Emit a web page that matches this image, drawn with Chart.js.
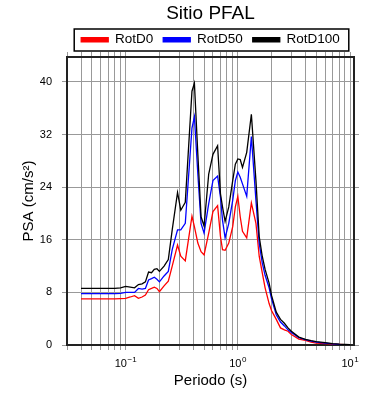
<!DOCTYPE html>
<html><head><meta charset="utf-8">
<script src="https://cdn.jsdelivr.net/npm/chart.js@4"></script>
<style>html,body{margin:0;padding:0;background:#fff}</style>
</head><body>
<canvas id="c" width="390" height="400"></canvas>
<script>
const periods = [0.04,0.05,0.06,0.07,0.08,0.09,0.1,0.11,0.12,0.13,0.14,0.15,0.16,0.17,0.18,0.19,0.2,0.22,0.24,0.26,0.29,0.31,0.34,0.39,0.41,0.44,0.47,0.5,0.55,0.6,0.66,0.7,0.73,0.77,0.83,0.9,0.95,1.0,1.05,1.1,1.2,1.32,1.45,1.55,1.65,1.75,1.9,2.0,2.2,2.4,2.6,2.8,3.0,3.5,4,4.5,5,6,7,8,9,10];
const rotD0 = [7.0,7.0,7.0,7.0,7.0,7.05,7.1,7.3,7.5,7.1,7.3,7.6,8.4,8.6,8.8,8.6,8.1,9.0,9.7,12.0,15.2,13.5,12.8,19.6,18.0,15.5,14.2,13.7,17.0,20.3,21.2,16.5,14.5,14.4,15.5,18,21,22.6,19.5,17.3,16.3,21.6,18.5,13.5,11.0,8.7,6.3,5.2,3.9,2.6,2.3,2.1,1.6,0.9,0.7,0.45,0.3,0.2,0.12,0.08,0.06,0.05];
const rotD50 = [7.8,7.8,7.8,7.8,7.8,7.85,8.0,8.0,8.0,8.6,8.5,8.6,9.9,10.1,10.3,10.0,9.6,10.5,11.2,14.5,17.5,17.5,18.5,33.0,34.7,26,18.5,17.0,21.5,25.0,25.7,22.5,19,16.3,18.5,22,25,26.3,25.5,24.5,22.6,31.7,22,15.5,12.5,10.6,8.7,7.0,4.6,3.5,2.9,2.3,1.9,1.1,0.8,0.6,0.45,0.3,0.18,0.1,0.07,0.05];
const rotD100 = [8.6,8.6,8.6,8.6,8.6,8.7,8.9,8.8,8.7,9.2,9.3,9.6,11.1,11.0,11.5,11.6,11.2,12.0,13.0,17.5,23.2,20.5,21.7,38.6,39.8,29,19.5,18.1,26,29,30.3,23,21,18.8,21,25,27.5,28.3,28.2,27.0,29.3,35.1,25,16.5,13.5,11.5,9.4,7.5,5.0,3.9,3.3,2.6,2.1,1.2,0.85,0.65,0.5,0.35,0.2,0.12,0.08,0.05];
const xGridValues = [0.03,0.04,0.05,0.06,0.07,0.08,0.09,0.1,0.2,0.3,0.4,0.5,0.6,0.7,0.8,0.9,1,2,3,4,5,6,7,8,9,10];
const xTickBase = '10';
const xTickExponents = {0.1: '\u22121', 1: '0', 10: '1'};
const yStep = 8;

const FONT = "'Liberation Sans', Arial, Helvetica, sans-serif";
Chart.defaults.font.family = FONT;
Chart.defaults.color = '#000';

const legendBorder = {
  id: 'legendBorder',
  afterDraw(chart) {
    const lg = chart.legend;
    if (!lg || !lg.legendHitBoxes || !lg.legendHitBoxes.length) return;
    const hb = lg.legendHitBoxes;
    const l = Math.min(...hb.map(h => h.left)) - 7;
    const r = Math.max(...hb.map(h => h.left + h.width)) + 9;
    const t = Math.min(...hb.map(h => h.top)) - 4;
    const b = Math.max(...hb.map(h => h.top + h.height)) + 4.5;
    const ctx = chart.ctx;
    ctx.save();
    ctx.strokeStyle = '#000';
    ctx.lineWidth = 1.5;
    ctx.strokeRect(l, t, r - l, b - t);
    ctx.restore();
  }
};

// power-of-ten tick labels with a true superscript exponent, placed with the x scale
const powerLabels = {
  id: 'powerLabels',
  afterDraw(chart) {
    const sc = chart.scales.x;
    const ctx = chart.ctx;
    ctx.save();
    ctx.fillStyle = '#000';
    ctx.textBaseline = 'alphabetic';
    ctx.textAlign = 'left';
    const baseY = sc.top + 22;
    Object.keys(xTickExponents).forEach(k => {
      const v = Number(k);
      const px = sc.getPixelForValue(v);
      ctx.font = '11px ' + FONT;
      const wb = ctx.measureText(xTickBase).width;
      ctx.font = '8px ' + FONT;
      const we = ctx.measureText(xTickExponents[k]).width;
      const x0 = px - (wb + we + 0.5) / 2;
      ctx.font = '11px ' + FONT;
      ctx.fillText(xTickBase, x0, baseY);
      ctx.font = '8px ' + FONT;
      ctx.fillText(xTickExponents[k], x0 + wb + 0.5, baseY - 5);
    });
    ctx.restore();
  }
};

const setXTicks = ax => { ax.ticks = xGridValues.map(v => ({value: v})); };
const mk = (label, vals, color, order) => ({
  label, data: periods.map((p, i) => ({x: p, y: vals[i]})),
  borderColor: color, backgroundColor: color, borderWidth: 1.3,
  pointRadius: 0, tension: 0, order
});

new Chart(document.getElementById('c'), {
  type: 'line',
  data: { datasets: [
    mk('RotD0', rotD0, '#ff0000', 3),
    mk('RotD50', rotD50, '#0000ff', 2),
    mk('RotD100', rotD100, '#000000', 1)
  ]},
  options: {
    responsive: false, animation: false,
    layout: { padding: 0 },
    plugins: {
      title: { display: true, text: 'Sitio PFAL', fullSize: false, color: '#000',
        font: { size: 19, weight: 'normal', lineHeight: 1 }, padding: { top: 4, bottom: 0 } },
      legend: { display: true, fullSize: false, maxHeight: 28,
        labels: { boxWidth: 27, boxHeight: 4, padding: 10, color: '#000', font: { size: 13.5 },
          sort: (a, b) => a.datasetIndex - b.datasetIndex } },
      tooltip: { enabled: false }
    },
    scales: {
      x: { type: 'logarithmic', position: 'bottom', min: 0.03, max: 10.85,
        afterBuildTicks: setXTicks, afterFit: ax => { ax.height = 55; },
        ticks: { autoSkip: false, maxRotation: 0, minRotation: 0, padding: 6, color: '#000',
          font: { size: 10.5 }, callback: () => '' },
        grid: { color: '#999', lineWidth: 1, tickLength: 5, drawTicks: true },
        border: { color: '#222', width: 2 },
        title: { display: true, text: 'Periodo (s)', color: '#000', font: { size: 15 }, padding: { top: 0, bottom: 10 } } },
      x2: { type: 'logarithmic', position: 'top', min: 0.03, max: 10.85,
        afterBuildTicks: setXTicks, afterFit: ax => { ax.height = 6; },
        ticks: { display: false },
        grid: { color: '#999', lineWidth: 1, tickLength: 5, drawOnChartArea: false },
        border: { color: '#222', width: 2 } },
      y: { type: 'linear', position: 'left', min: 0, max: 43.8,
        afterFit: ax => { ax.width = 67; },
        ticks: { stepSize: yStep, includeBounds: false, padding: 10, color: '#000', font: { size: 11 } },
        grid: { color: '#999', lineWidth: 1, tickLength: 5 },
        border: { color: '#222', width: 2 },
        title: { display: true, text: 'PSA (cm/s\u00B2)', color: '#000', font: { size: 15 }, padding: { top: 20, bottom: 0 } } },
      y2: { type: 'linear', position: 'right', min: 0, max: 43.8,
        afterFit: ax => { ax.width = 36; },
        ticks: { display: false, stepSize: yStep, includeBounds: false },
        grid: { color: '#999', lineWidth: 1, tickLength: 5, drawOnChartArea: false },
        border: { color: '#222', width: 2 } }
    }
  },
  plugins: [legendBorder, powerLabels]
});
</script>
</body></html>
